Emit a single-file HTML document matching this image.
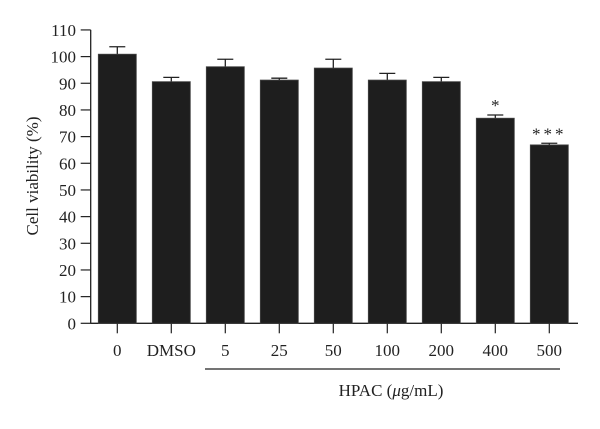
<!DOCTYPE html>
<html><head><meta charset="utf-8"><style>
body{margin:0;background:#fff;}
svg text{font-family:"Liberation Serif",serif;fill:#222;}
</style></head><body>
<svg id="chart" width="600" height="424" xmlns="http://www.w3.org/2000/svg"></svg>
<script>
const categories=["0","DMSO","5","25","50","100","200","400","500"];
const values=[100.9,90.6,96.2,91.2,95.7,91.2,90.6,76.9,66.9];
const errors=[2.8,1.6,2.8,0.7,3.3,2.5,1.6,1.2,0.6];
const significance=["","","","","","","","*","***"];
const yTicks=[0,10,20,30,40,50,60,70,80,90,100,110];
const NS="http://www.w3.org/2000/svg";
const svg=document.getElementById("chart");
const x0=90.7,y0=323.3,pxPerUnit=26.67/10,step=54,first=117.3,bw=38;
const y=v=>y0-v*pxPerUnit;
const x=i=>first+i*step;
function mk(tag,attrs,parent){const e=document.createElementNS(NS,tag);for(const k in attrs)e.setAttribute(k,attrs[k]);(parent||svg).appendChild(e);return e;}
let e;
e=mk("line",{x1:x0,y1:y(110),x2:x0,y2:y0+0.5,stroke:"#222","stroke-width":1.3});


e=mk("line",{x1:x0,y1:y0,x2:578,y2:y0,stroke:"#222","stroke-width":1.3});


yTicks.forEach(t=>{
 e=mk("line",{x1:80.7,y1:y(t),x2:x0,y2:y(t),stroke:"#222","stroke-width":1.2});
 
 
 e=mk("text",{x:76,y:y(t)+6,"text-anchor":"end","font-size":17});
 e.textContent=t;
 
 
});
categories.forEach((c,i)=>{
 const cx=x(i),top=y(values[i]),cap=y(values[i]+errors[i]);
 e=mk("line",{x1:cx,y1:cap,x2:cx,y2:top,stroke:"#222","stroke-width":1.3});
 
 
 e=mk("line",{x1:cx-8,y1:cap,x2:cx+8,y2:cap,stroke:"#222","stroke-width":1.3});
 
 
 e=mk("rect",{x:cx-bw/2,y:top,width:bw,height:y0-top,fill:"#1e1e1e",stroke:"#444","stroke-width":0.8});
 
 
 e=mk("line",{x1:cx,y1:y0,x2:cx,y2:y0+10,stroke:"#222","stroke-width":1.2});
 
 
 e=mk("text",{x:cx,y:356,"text-anchor":"middle","font-size":17});
 e.textContent=c;
 
 
 if(significance[i]){
  e=mk("text",{x:cx,y:cap-4,"text-anchor":"middle","font-size":17,"letter-spacing":significance[i].length>1?3:0});
  e.textContent=significance[i];
  
  
 }
});
e=mk("line",{x1:205,y1:369,x2:560,y2:369,stroke:"#222","stroke-width":1.2});


e=mk("text",{x:391,y:396,"text-anchor":"middle","font-size":17});
e.innerHTML='HPAC (<tspan font-style="italic">μ</tspan>g/mL)';


e=mk("text",{x:0,y:0,"text-anchor":"middle","font-size":17,transform:"translate(38,176) rotate(-90)"});
e.textContent="Cell viability (%)";


</script>
</body></html>
